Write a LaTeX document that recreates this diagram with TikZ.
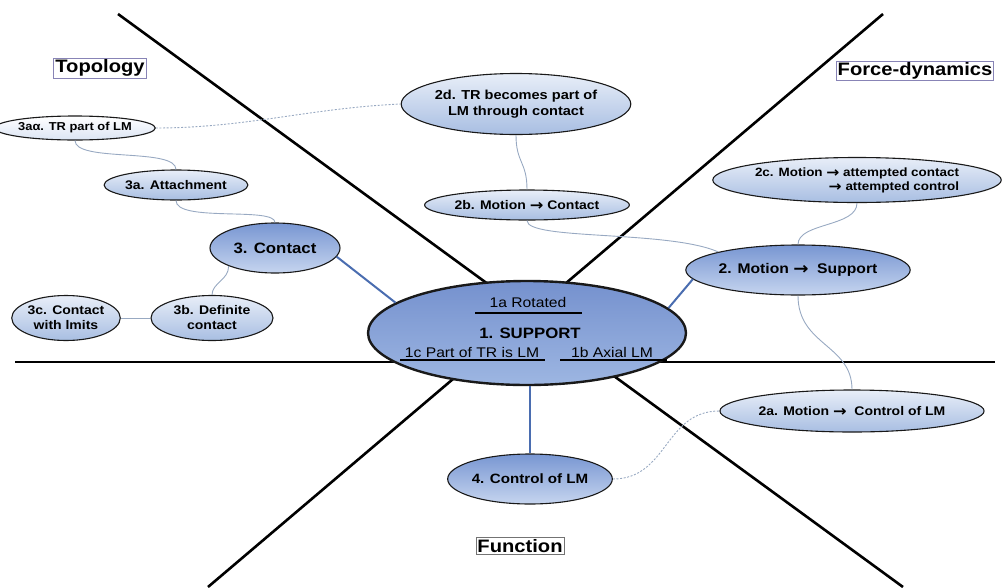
\documentclass[tikz,border=0pt]{standalone}
\usepackage{fontspec}
\setmainfont{Liberation Sans}[FakeStretch=1.12]
\newfontfamily\arrfont{DejaVu Sans}
\newcommand{\rarr}{\raisebox{-0.08em}{\scalebox{1.3}[1.2]{\arrfont\bfseries →}}}
\usetikzlibrary{shapes.geometric}
\definecolor{subtop}{HTML}{E8EEF8}
\definecolor{subbot}{HTML}{A8BEE2}
\definecolor{maintop}{HTML}{7896D2}
\definecolor{mainbot}{HTML}{C6D5EF}
\definecolor{centtop}{HTML}{7591CE}
\definecolor{centbot}{HTML}{9DB6E2}
\definecolor{connc}{HTML}{98A9C2}
\definecolor{linkc}{HTML}{4A6DB0}
\definecolor{tagc}{HTML}{8884B6}
\tikzset{
  bubble/.style={ellipse, draw=black!90, line width=1.1pt, inner sep=0pt, align=center,
    text=black, font=\bfseries\fontsize{12.5}{15}\selectfont},
  subnode/.style={bubble, top color=subtop, bottom color=subbot},
  palenode/.style={bubble, top color=white, bottom color=subtop!80!subbot},
  mainnode/.style={bubble, top color=maintop, bottom color=mainbot},
  centnode/.style={ellipse, draw=black!90, line width=2.4pt, inner sep=0pt,
    top color=centtop, bottom color=centbot},
  conn/.style={draw=connc, line width=0.9pt},
  dconn/.style={conn, dashed, dash pattern=on 2pt off 1.6pt},
  link/.style={draw=linkc, line width=2pt},
  axis/.style={draw=black, line width=2.6pt},
  ul/.style={draw=black, line width=2.6pt},
  tag/.style={draw=tagc, line width=0.8pt, inner sep=1.5pt, fill=white,
    font=\bfseries\fontsize{18}{20}\selectfont},
  ctext/.style={anchor=base, inner sep=0pt, font=\fontsize{14}{16}\selectfont}
}
\begin{document}
\begin{tikzpicture}[x=1pt,y=-1pt]
\useasboundingbox (0,0) rectangle (1002,587);
% axes
\coordinate (a1) at (118,14);
\coordinate (a2) at (903,587);
\coordinate (b1) at (883,14);
\coordinate (b2) at (208,587);
\coordinate (h1) at (15,362);
\coordinate (h2) at (995,362);
\draw[axis] (a1) -- (a2);
\draw[axis] (b1) -- (b2);
\draw[axis] (h1) -- (h2);

% nodes
\node[centnode, minimum width=318pt, minimum height=104pt] (n1) at (527,333) {};
\node[mainnode, minimum width=130pt, minimum height=50pt, font=\bfseries\fontsize{15}{17}\selectfont] (n3) at (275,248) {3. Contact};
\node[subnode, minimum width=126pt, minimum height=30pt] (n3a) at (176,185) {3a. Attachment};
\node[palenode, minimum width=130pt, minimum height=24pt, font=\bfseries\fontsize{11.5}{13}\selectfont] (n3aa) at (75,128) {3aα. TR part of LM};
\node[subnode, minimum width=122pt, minimum height=45pt] (n3b) at (212,318) {3b. Definite\\contact};
\node[subnode, minimum width=102pt, minimum height=45pt] (n3c) at (66,318) {3c. Contact\\with lmits};
\node[subnode, minimum width=172pt, minimum height=61pt, font=\bfseries\fontsize{13}{15.5}\selectfont] (n2d) at (516,104) {2d. TR becomes part of\\LM through contact};
\node[subnode, minimum width=155pt, minimum height=30pt] (n2b) at (527,205) {2b. Motion \rarr{} Contact};
\node[subnode, minimum width=253pt, minimum height=45pt, align=right, font=\bfseries\fontsize{12}{14}\selectfont] (n2c) at (857,180) {2c. Motion \rarr{} attempted contact\\\rarr{} attempted control};
\node[mainnode, minimum width=170pt, minimum height=50pt, font=\bfseries\fontsize{14}{16}\selectfont] (n2) at (798,270) {2. Motion \rarr\ \ Support};
\node[subnode, minimum width=210pt, minimum height=42pt] (n2a) at (852,411) {2a. Motion \rarr\ \ Control of LM};
\node[mainnode, minimum width=145pt, minimum height=50pt, font=\bfseries\fontsize{13.5}{16}\selectfont] (n4) at (530,479) {4. Control of LM};

% central texts
\node[ctext] (t1a) at (528,307) {1a Rotated};
\node[ctext, font=\bfseries\fontsize{15}{17}\selectfont] (t1) at (530,338) {1. SUPPORT};
\node[ctext] (t1c) at (472,357) {1c Part of TR is LM};
\node[ctext] (t1b) at (612,357) {1b Axial LM};
\draw[ul] (475,313) -- (582,313);
\draw[ul] (400,360) -- (545,360);
\draw[ul] (560,360) -- (667,360);

% tags
\node[tag] (topo) at (100,68) {Topology};
\node[tag] (force) at (915,71) {Force-dynamics};
\node[tag, draw=black!55] (func) at (520,546) {Function};

% thick links
\draw[link] (n3.-8) -- (n1.167);
\draw[link] (n2.185) -- (n1.10);
\draw[link] (n4.north) -- (n4.north |- n1.south);

% thin connectors
\draw[conn] (n3aa.south) .. controls +(0,22) and +(0,-22) .. (n3a.north);
\draw[conn] (n3a.south) .. controls +(0,22) and +(0,-16) .. (n3.north);
\draw[conn] (n3.south west) .. controls +(0,14) and +(0,-12) .. (n3b.north);
\draw[conn] (n3c.east) -- (n3b.west);
\draw[conn] (n2d.south) .. controls +(0,28) and +(0,-28) .. (n2b.north);
\draw[conn] (n2b.south) .. controls +(0,20) and +(-50,-22) .. (n2.north west);
\draw[conn] (n2c.south) .. controls +(0,24) and +(0,-22) .. (n2.north);
\draw[conn] (n2.south) .. controls +(0,50) and +(0,-45) .. (n2a.north);
\draw[dconn] (n3aa.east) .. controls +(90,0) and +(-90,4) .. (n2d.west);
\draw[dconn] (n4.east) .. controls +(55,0) and +(-55,0) .. (n2a.west);
\end{tikzpicture}
\end{document}
